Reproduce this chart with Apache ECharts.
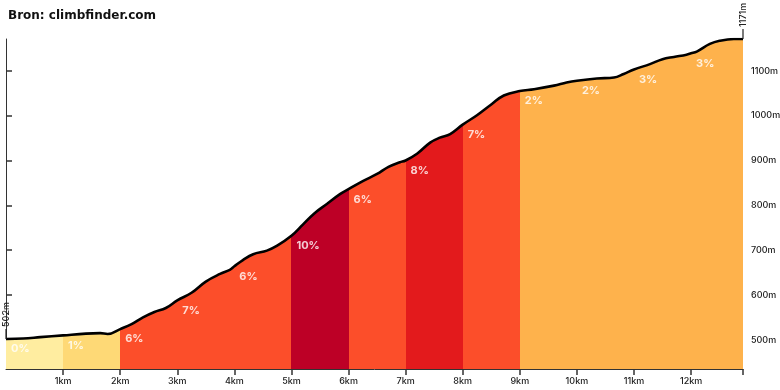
<!DOCTYPE html>
<html>
<head>
<meta charset="utf-8">
<script src="https://cdn.jsdelivr.net/npm/echarts@6/dist/echarts.min.js"></script>
<style>
html,body{margin:0;padding:0;background:#fff;}
#chart{width:780px;height:390px;}
</style>
</head>
<body>
<div id="chart"></div>
<script>
// Profile distance (km) and elevation (m)
const dist = [0, 0.3, 0.6, 1.0, 1.4, 1.65, 1.78, 2.0, 2.2, 2.4, 2.6, 2.8, 3.0, 3.25, 3.5, 3.75, 3.92, 4.0, 4.15, 4.33, 4.57, 4.75, 5.0, 5.2, 5.4, 5.62, 5.85, 6.0, 6.25, 6.5, 6.7, 6.9, 7.0, 7.2, 7.43, 7.6, 7.78, 8.0, 8.25, 8.5, 8.72, 9.0, 9.25, 9.6, 9.82, 10.0, 10.35, 10.65, 10.82, 11.0, 11.28, 11.5, 11.7, 11.92, 12.0, 12.1, 12.33, 12.5, 12.75, 12.91];
const elev = [502, 503, 506, 510, 514, 515, 513, 524, 535, 550, 562, 571, 588, 605, 630, 647, 656, 664, 678, 691, 699, 710, 732, 757, 782, 803, 825, 836, 854, 870, 886, 896, 900, 915, 940, 951, 959, 980, 1001, 1025, 1045, 1055, 1059, 1067, 1074, 1078, 1083, 1085, 1093, 1103, 1115, 1126, 1131, 1136, 1139, 1143, 1160, 1167, 1171, 1171];

// Segments (km) and their grades (%)
const segStart = [0, 1, 2, 3, 4, 5, 6, 7, 8, 9, 10, 11, 12];
const segEnd   = [1, 2, 3, 4, 5, 6, 7, 8, 9, 10, 11, 12, 12.91];
const grades   = [0, 1, 6, 7, 6, 10, 6, 8, 7, 2, 2, 3, 3];

// Tick values
const xTicks = [1, 2, 3, 4, 5, 6, 7, 8, 9, 10, 11, 12];
const yTicks = [500, 600, 700, 800, 900, 1000, 1100];

const titleText = 'Bron: climbfinder.com';

function gradeColor(g) {
  if (g < 1) return '#ffeda0';
  if (g < 2) return '#fed976';
  if (g < 4) return '#feb24c';
  if (g < 6) return '#fd8d3c';
  if (g < 8) return '#fc4e2a';
  if (g < 10) return '#e31a1c';
  return '#bd0026';
}

const profile = dist.map((d, i) => [d, elev[i]]);
const pieces = segStart.map((s, i) => ({ gte: s, lt: segEnd[i] + (i === segStart.length - 1 ? 1 : 0), color: gradeColor(grades[i]) }));
const labelData = segStart.map((s, i) => ({ value: [s, elev[dist.indexOf(s)]], g: grades[i] }));

const FONT = 'Inter, "Noto Sans", sans-serif';
const chart = echarts.init(document.getElementById('chart'), null, { renderer: 'canvas' });

chart.setOption({
  animation: false,
  backgroundColor: '#fff',
  title: {
    text: titleText, left: 3, top: 5,
    textStyle: { fontFamily: '"DejaVu Sans", Verdana, sans-serif', fontSize: 12, fontWeight: 'bold', color: '#111' }
  },
  grid: { left: 6, right: 37, top: 39, bottom: 21, containLabel: false, outerBoundsMode: 'none' },
  xAxis: {
    type: 'value', min: 0, max: 12.91,
    axisLine: { onZero: false, lineStyle: { color: '#333', width: 1 } },
    axisTick: { customValues: xTicks.concat([12.91]), length: 6, lineStyle: { color: '#333', width: 1.5 } },
    axisLabel: { customValues: xTicks, formatter: v => v + 'km', fontFamily: FONT, fontSize: 9, fontWeight: 500, color: '#222', margin: 8 },
    splitLine: { show: false }
  },
  yAxis: {
    type: 'value', position: 'right', min: 435, max: 1171,
    axisLine: { show: true, lineStyle: { color: '#333', width: 1 } },
    axisTick: { show: true, customValues: yTicks, length: 6, lineStyle: { color: '#333', width: 1.5 } },
    axisLabel: { customValues: yTicks, formatter: v => v + 'm', fontFamily: FONT, fontSize: 9, fontWeight: 500, color: '#222', margin: 8 },
    splitLine: { show: false }
  },
  visualMap: {
    show: false, type: 'piecewise', dimension: 0, seriesIndex: 0, pieces: pieces
  },
  series: [
    {
      type: 'line', data: profile, smooth: 0.4, showSymbol: false, symbol: 'none',
      lineStyle: { color: '#000', width: 2.6 },
      areaStyle: { opacity: 1, origin: 'start' },
      z: 2
    },
    {
      type: 'scatter', data: labelData, symbolSize: 0, silent: true, z: 5,
      label: {
        show: true, position: 'inside', align: 'left', verticalAlign: 'middle', offset: [5, 10],
        formatter: p => p.data.g + '%', color: '#fff', fontFamily: FONT, fontSize: 11, fontWeight: 'bold'
      }
    }
  ]
});

// Start / end elevation markers
function marker(d, e) {
  const p = chart.convertToPixel({ gridIndex: 0 }, [d, e]);
  return [
    { type: 'line', shape: { x1: p[0], y1: p[1], x2: p[0], y2: p[1] - 10 }, style: { stroke: '#222', lineWidth: 1.2 }, z: 10 },
    { type: 'text', x: p[0] + 0.5, y: p[1] - 12, rotation: Math.PI / 2,
      style: { text: e + 'm', fontFamily: FONT, fontSize: 9, fontWeight: 500, fill: '#222', align: 'left', verticalAlign: 'middle' }, z: 10 }
  ];
}
const first = 0, last = dist.length - 1;
chart.setOption({ graphic: marker(dist[first], elev[first]).concat(marker(dist[last], elev[last])) });
</script>
</body>
</html>
